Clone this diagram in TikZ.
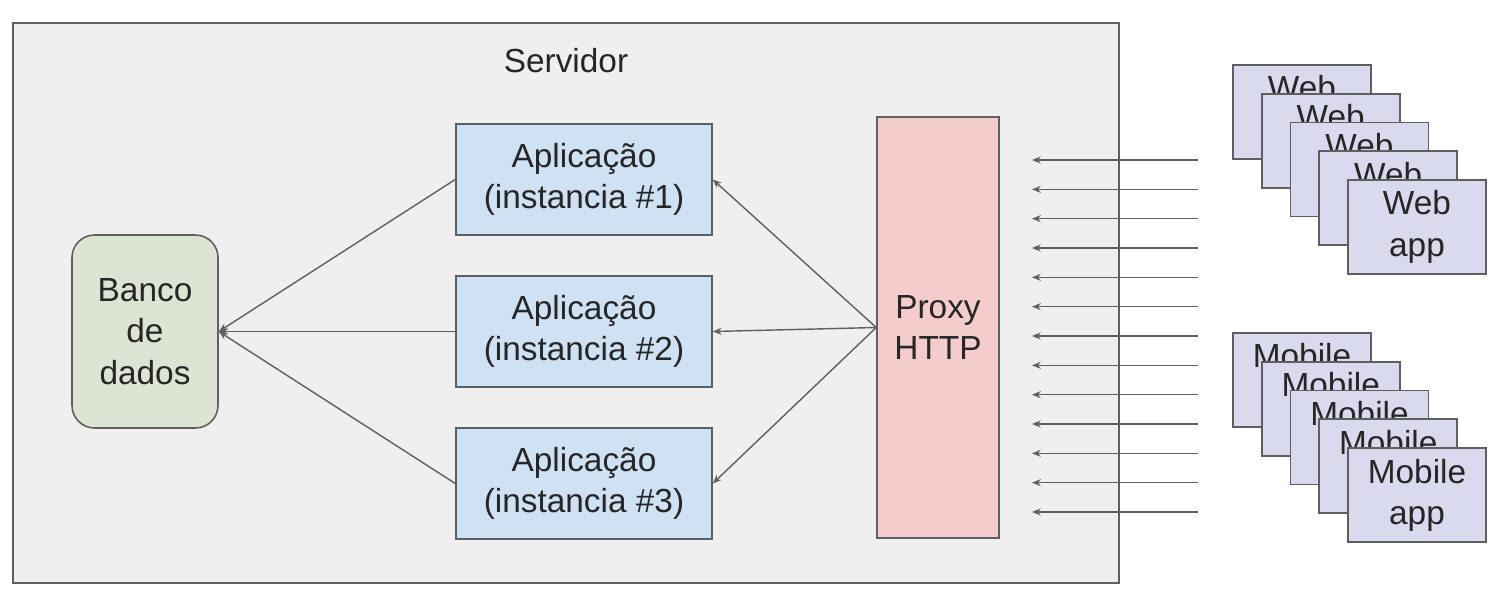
\documentclass[tikz,border=0pt]{standalone}
\usepackage{fontspec}
\setmainfont{Liberation Sans}
\usetikzlibrary{arrows.meta}
\begin{document}
\begin{tikzpicture}[x=0.02cm, y=-0.02cm,
  box/.style={draw=linecol, line width=0.9pt, align=center, inner sep=0pt,
    text=black!85, font=\fontsize{19}{23.5}\selectfont},
  appbox/.style={box, fill=appfill, minimum width=5.12cm, minimum height=2.22cm},
  clientbox/.style={box, fill=clientfill, minimum width=2.76cm, minimum height=1.88cm},
  link/.style={draw=linecol, line width=0.8pt, -{Stealth[length=5pt,width=4pt]}}]
  % Define colors
  \definecolor{linecol}{HTML}{5F5F5F}
  \definecolor{serverfill}{HTML}{EFEFEF}
  \definecolor{dbfill}{HTML}{DCE4D4}
  \definecolor{appfill}{HTML}{CFE2F3}
  \definecolor{proxyfill}{HTML}{F4CCCC}
  \definecolor{clientfill}{HTML}{DADAEF}

  \useasboundingbox (0,0) rectangle (1505,593);

  % Server
  \draw[linecol, line width=0.9pt, fill=serverfill] (13,23) rectangle (1119,583);
  \node[text=black!85, font=\fontsize{19}{23.5}\selectfont] (servidor) at (566,61) {Servidor};

  % Database
  \node[box, fill=dbfill, rounded corners=0.45cm, minimum width=2.92cm, minimum height=3.86cm]
    (banco) at (145,331.5) {Banco\\de\\dados};

  % Application instances
  \node[appbox] (app1) at (584,179.5) {Aplicação\\(instancia \#1)};
  \node[appbox] (app2) at (584,331.5) {Aplicação\\(instancia \#2)};
  \node[appbox] (app3) at (584,483.5) {Aplicação\\(instancia \#3)};

  % Proxy
  \node[box, fill=proxyfill, minimum width=2.44cm, minimum height=8.42cm]
    (proxy) at (938,327.5) {Proxy\\HTTP};

  % Proxy to instances
  \foreach \i in {1,2,3}
    \draw[link] (proxy.west) -- (app\i.east);

  % Instances to database
  \foreach \i in {1,2,3}
    \draw[link] (app\i.west) -- (banco.east);

  % Incoming requests
  \foreach \i in {0,...,12} {
    \coordinate (req\i) at (1198,160+29.33*\i);
    \coordinate (in\i) at (1032,160+29.33*\i);
    \draw[link] (req\i) -- (in\i);
  }

  % Clients
  \foreach \i in {0,...,4}
    \node[clientbox] (web\i) at (1302+28.75*\i,112+28.75*\i) {Web\\app};
  \foreach \i in {0,...,4}
    \node[clientbox] (mobile\i) at (1302+28.75*\i,380+28.75*\i) {Mobile\\app};
\end{tikzpicture}
\end{document}
